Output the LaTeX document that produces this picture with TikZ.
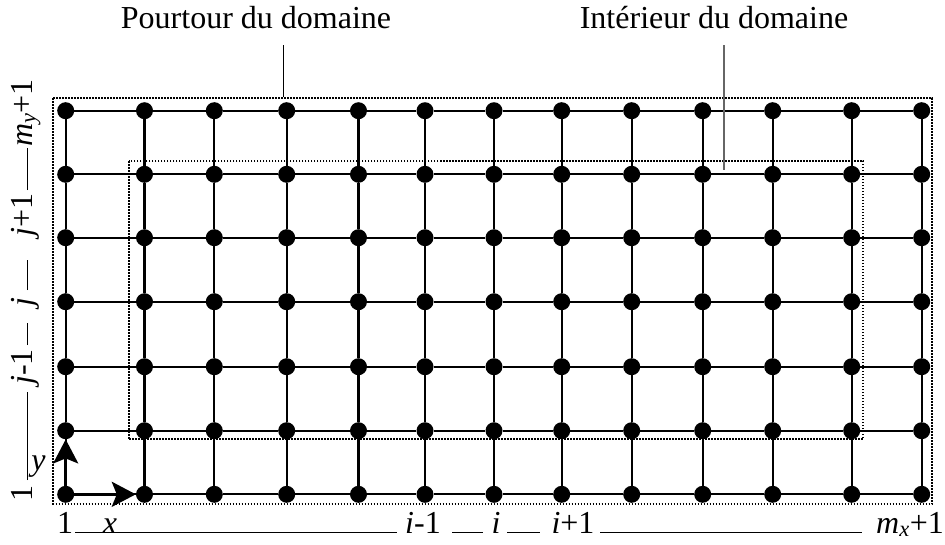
\documentclass[tikz,border=0pt]{standalone}
\usepackage{fontspec}
\setmainfont{Liberation Serif}
\usetikzlibrary{arrows.meta}
\begin{document}
\begin{tikzpicture}[x=1pt,y=-1pt,
  dot/.style={circle,fill=black,inner sep=0pt,minimum size=17pt},
  gridline/.style={line width=2.2pt},
  axisarrow/.style={line width=3pt,-{Stealth[length=24pt,width=25pt,inset=5pt]}},
  border/.style={line width=1.8pt,dash pattern=on 1.5pt off 1.5pt},
  lbl/.style={font=\fontsize{32}{36}\selectfont,inner sep=0pt},
  textrule/.style={line width=1.5pt},
  leader/.style={line width=1.1pt}]
\useasboundingbox (0,0) rectangle (945,544);

% dotted domains
\draw[border] (53.3,98.3) rectangle (932.3,504);
\draw[border] (128.7,161) rectangle (863.3,439.3);

% grid nodes
\foreach \x [count=\c] in {65.7,144.5,214.3,286.7,358.5,425,494,561.7,631.7,702.7,772.7,851.7,921.7}
  \foreach \y [count=\r] in {110.7,174.3,237.7,301.7,366.7,430.7,494.3}
    \node[dot] (n-\c-\r) at (\x,\y) {};

% grid lines
\foreach \c [evaluate=\c as \cn using int(\c+1)] in {1,...,12}
  \foreach \r in {1,...,7}
    \draw[gridline] (n-\c-\r) -- (n-\cn-\r);
\foreach \r [evaluate=\r as \rn using int(\r+1)] in {1,...,6}
  \foreach \c in {1,...,13}
    \draw[gridline] (n-\c-\r) -- (n-\c-\rn);

% axes
\draw[axisarrow] (n-1-7) -- (n-2-7);
\draw[axisarrow] (n-1-7) -- (n-1-6);
\node[lbl,anchor=base] (xl) at (110,533) {\textit{x}};
\node[lbl,anchor=base] (yl) at (38.5,470) {\textit{y}};

% top labels
\node[lbl,anchor=base] (pourtour) at (256,28) {Pourtour du domaine};
\node[lbl,anchor=base] (interieur) at (714,28) {Intérieur du domaine};
\coordinate (pt-a) at (283.3,45);
\coordinate (pt-b) at (283.3,97);
\draw[leader] (pt-a) -- (pt-b);
\coordinate (it-a) at (724,45);
\coordinate (it-b) at (724,170);
\draw[leader,black!60] (it-a) -- (it-b);

% bottom index labels
\node[lbl,anchor=base] (bx1) at (65,533) {1};
\node[lbl,anchor=base] (bxim) at (423,533) {\textit{i}-1};
\node[lbl,anchor=base] (bxi) at (496,533) {\textit{i}};
\node[lbl,anchor=base] (bxip) at (573,533) {\textit{i}+1};
\node[lbl,anchor=base] (bxm) at (910,533) {\textit{m}\textsubscript{\textit{x}}+1};
\coordinate (br1a) at (75,532.5);  \coordinate (br1b) at (397,532.5);
\coordinate (br2a) at (452,532.5); \coordinate (br2b) at (483,532.5);
\coordinate (br3a) at (507,532.5); \coordinate (br3b) at (540,532.5);
\coordinate (br4a) at (600,532.5); \coordinate (br4b) at (862,532.5);
\draw[textrule] (br1a) -- (br1b);
\draw[textrule] (br2a) -- (br2b);
\draw[textrule] (br3a) -- (br3b);
\draw[textrule] (br4a) -- (br4b);

% left index labels (rotated)
\node[lbl,rotate=90,anchor=base] (ly1) at (32,493) {1};
\node[lbl,rotate=90,anchor=base] (lyjm) at (32,367) {\textit{j}-1};
\node[lbl,rotate=90,anchor=base] (lyj) at (32,302) {\textit{j}};
\node[lbl,rotate=90,anchor=base] (lyjp) at (32,215) {\textit{j}+1};
\node[lbl,rotate=90,anchor=base] (lym) at (32,113) {\textit{m}\textsubscript{\textit{y}}+1};
\coordinate (lr1a) at (27.5,480); \coordinate (lr1b) at (27.5,392);
\coordinate (lr2a) at (27.5,345); \coordinate (lr2b) at (27.5,323);
\coordinate (lr3a) at (27.5,290); \coordinate (lr3b) at (27.5,260);
\coordinate (lr4a) at (27.5,190); \coordinate (lr4b) at (27.5,148);
\draw[textrule] (lr1a) -- (lr1b);
\draw[textrule] (lr2a) -- (lr2b);
\draw[textrule] (lr3a) -- (lr3b);
\draw[textrule] (lr4a) -- (lr4b);
\end{tikzpicture}
\end{document}
